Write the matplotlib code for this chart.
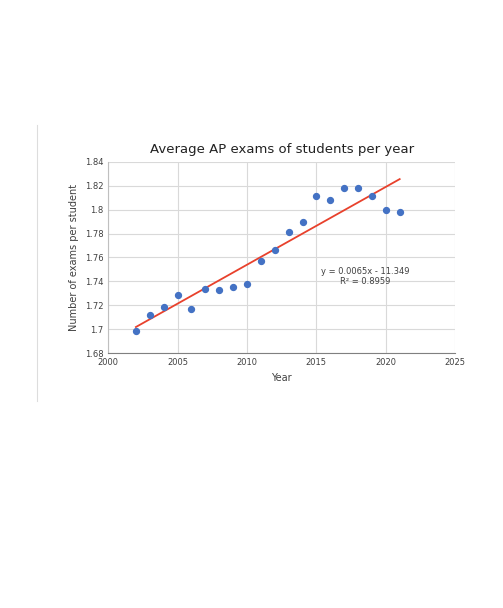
import numpy as np
import matplotlib.pyplot as plt

years = [2002, 2003, 2004, 2005, 2006, 2007, 2008, 2009, 2010, 2011,
         2012, 2013, 2014, 2015, 2016, 2017, 2018, 2019, 2020, 2021]
exams = [1.699, 1.712, 1.719, 1.729, 1.717, 1.734, 1.733, 1.735, 1.738, 1.757,
         1.766, 1.781, 1.790, 1.811, 1.808, 1.818, 1.818, 1.811, 1.800, 1.798]

fig = plt.figure(figsize=(5.03, 6.08), dpi=100)
ax = fig.add_axes([0.215, 0.419, 0.69, 0.315])

ax.scatter(years, exams, s=18, color='#4472C4', zorder=3)
slope, icpt = np.polyfit(years, exams, 1)
xs = np.array([years[0], years[-1]])
ax.plot(xs, slope * xs + icpt, color='#E8412C', lw=1.3, zorder=2)

ax.set_xlim(2000, 2025)
ax.set_ylim(1.68, 1.84)
ax.set_xticks(range(2000, 2026, 5))
ax.set_yticks(np.arange(1.68, 1.841, 0.02))
ax.set_yticklabels(['1.68', '1.7', '1.72', '1.74', '1.76', '1.78', '1.8', '1.82', '1.84'])
ax.grid(color='#d9d9d9', lw=0.8)
ax.set_axisbelow(True)
for s in ['top', 'right']:
    ax.spines[s].set_visible(False)
ax.spines['left'].set_color('#bfbfbf')
ax.spines['bottom'].set_color('#808080')
ax.tick_params(length=0, labelsize=6, colors='#404040')
ax.set_xlabel('Year', fontsize=7, color='#404040')
ax.set_ylabel('Number of exams per student', fontsize=7, color='#404040')
ax.set_title('Average AP exams of students per year', fontsize=9.5, color='#222222', pad=6)
ax.text(2018.5, 1.744, 'y = 0.0065x - 11.349\nR² = 0.8959', fontsize=6,
        ha='center', va='center', color='#404040')

fig.add_artist(plt.Line2D([0.074, 0.074], [0.34, 0.795], color='#dddddd', lw=0.8))

fig.savefig('out.png', dpi=100)
